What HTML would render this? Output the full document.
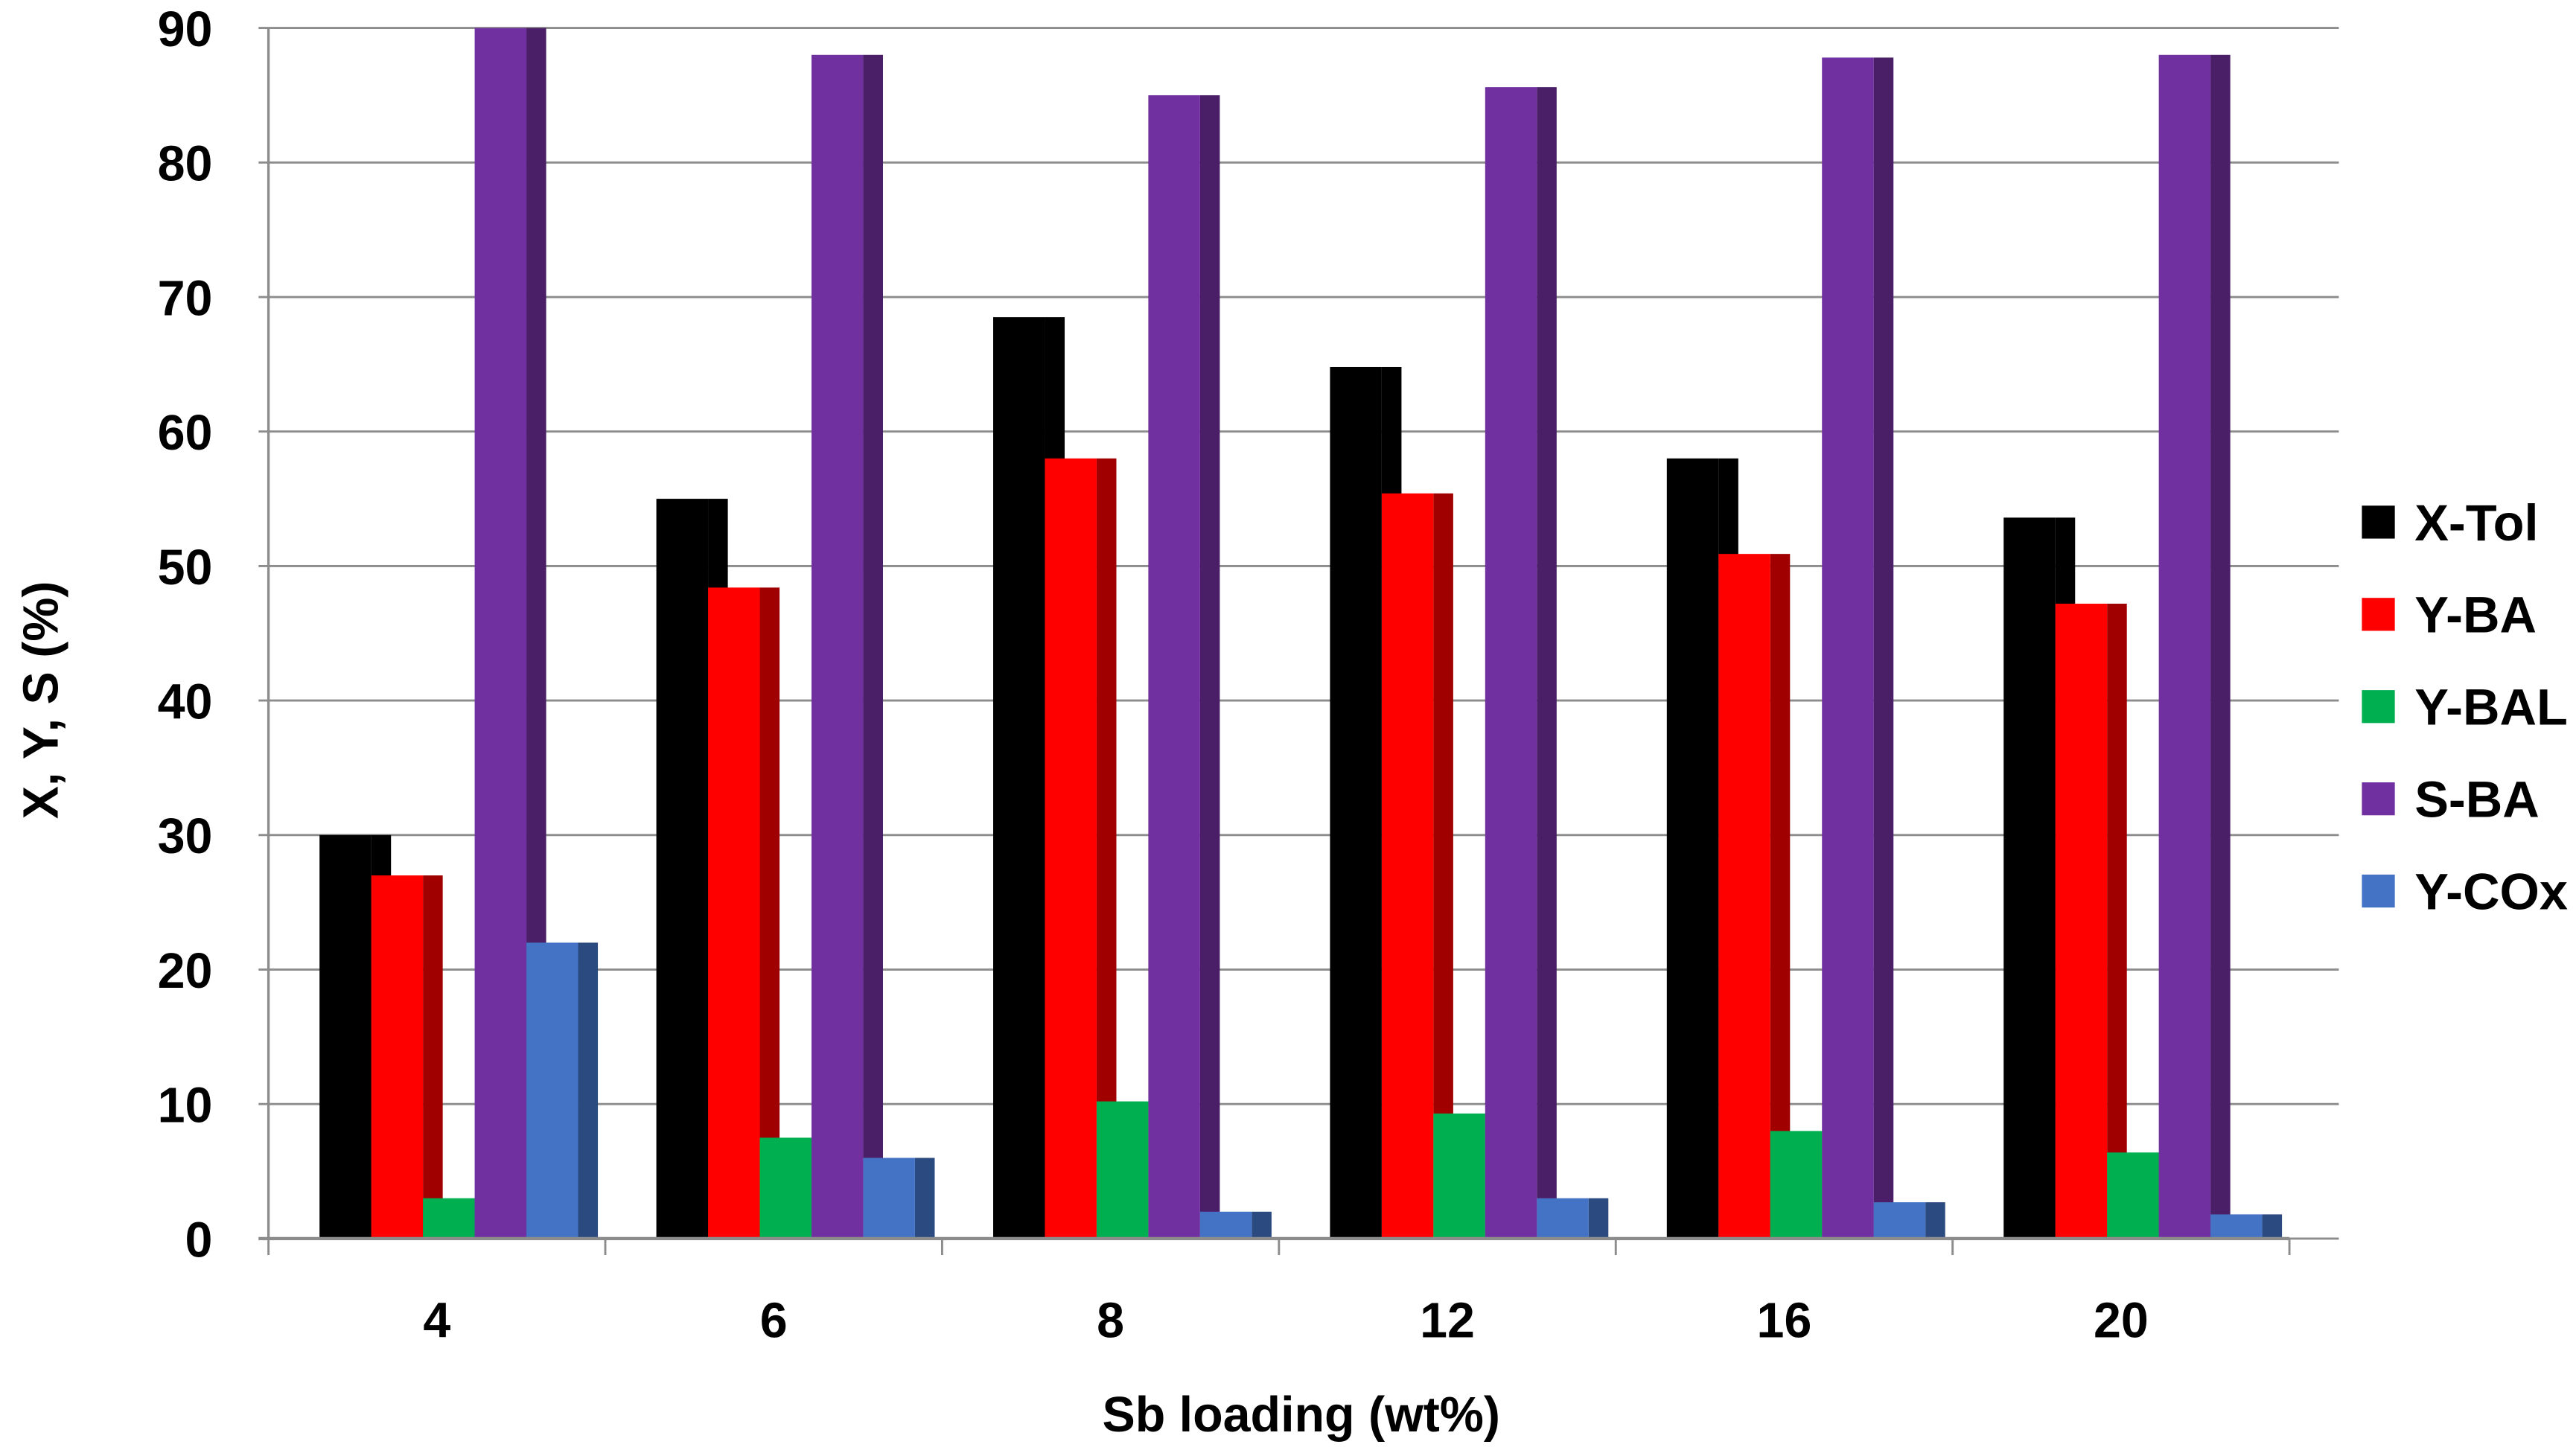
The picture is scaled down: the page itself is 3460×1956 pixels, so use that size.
<!DOCTYPE html>
<html><head><meta charset="utf-8"><style>
html,body{margin:0;padding:0;background:#fff;}
svg{display:block;}
text{font-family:"Liberation Sans",sans-serif;font-weight:bold;fill:#000;}
</style></head><body>
<svg id="chart" width="3460" height="1956" viewBox="0 0 1564 884" preserveAspectRatio="none" xmlns="http://www.w3.org/2000/svg">
<g id="grid"></g>
<g id="bars"></g>
<g id="axes"></g>
<text transform="translate(35,425) rotate(-90)" text-anchor="middle" font-size="30">X, Y, S (%)</text>
<text x="790" y="869" text-anchor="middle" font-size="30">Sb loading (wt%)</text>
<g id="legend"></g>
</svg>
<script>
const categories = ["4","6","8","12","16","20"];
const seriesNames = ["X-Tol","Y-BA","Y-BAL","S-BA","Y-COx"];
const xTol = [30, 55, 68.5, 64.8, 58, 53.6];
const yBA = [27, 48.4, 58, 55.4, 50.9, 47.2];
const yBAL = [3, 7.5, 10.2, 9.3, 8, 6.4];
const sBA = [90, 88, 85, 85.6, 87.8, 88];
const yCOx = [22, 6, 2, 3, 2.7, 1.8];
const yTicks = [0,10,20,30,40,50,60,70,80,90];

const series = [xTol, yBA, yBAL, sBA, yCOx];
const fronts = ["#000000","#ff0000","#00b050","#7030a0","#4472c4"];
const sides = ["#000000","#a00000","#007a38","#4b1f68","#2a4a80"];
const NS = "http://www.w3.org/2000/svg";
const X0 = 163, X1 = 1390, GRIDR = 1420, Y0 = 752, YTOP = 17;
const catW = (X1 - X0) / categories.length;
const barW = 31.4, depth = 12;
function yScale(v){ return Y0 - (Math.min(v,90)/90)*(Y0-YTOP); }
function xCat(i){ return X0 + i*catW; }
function mk(tag, attrs, parent){ const e=document.createElementNS(NS,tag); for(const k in attrs) e.setAttribute(k,attrs[k]); parent.appendChild(e); return e; }

const grid = document.getElementById('grid');
yTicks.forEach(t=>{
  const y=yScale(t);
  const l=mk('line',{x1:X0-6,x2:GRIDR,y1:y,y2:y,stroke:'#8c8c8c','stroke-width':1.3},grid);
  
  
  const tx=mk('text',{x:129,y:y+11,'text-anchor':'end','font-size':30},grid);
  tx.textContent=t;
  
  
});

const bars = document.getElementById('bars');
categories.forEach((c,i)=>{
  const gx = xCat(i) + 31;
  series.forEach((s,j)=>{
    const x = gx + j*barW, y = yScale(s[i]), h = Y0 - y;
    const side = mk('rect',{x:x+barW,y:y,width:depth,height:h,fill:sides[j]},bars);
    
    
  });
  series.forEach((s,j)=>{
    const x = gx + j*barW, y = yScale(s[i]), h = Y0 - y;
    const r = mk('rect',{x:x,y:y,width:barW,height:h,fill:fronts[j]},bars);
    
    
  });
});

const axes = document.getElementById('axes');
let a = mk('line',{x1:X0,x2:X0,y1:YTOP,y2:Y0,stroke:'#8c8c8c','stroke-width':1.5},axes);


a = mk('line',{x1:X0-6,x2:X1,y1:Y0,y2:Y0,stroke:'#8c8c8c','stroke-width':2},axes);


for(let i=0;i<=categories.length;i++){
  const t=mk('line',{x1:xCat(i),x2:xCat(i),y1:Y0,y2:Y0+10,stroke:'#8c8c8c','stroke-width':1.3},axes);
  
  
}
categories.forEach((c,i)=>{
  const t=mk('text',{x:xCat(i)+catW/2,y:812,'text-anchor':'middle','font-size':30},axes);
  t.textContent=c;
  
  
});

const legend = document.getElementById('legend');
seriesNames.forEach((n,j)=>{
  const cy = 317 + j*56;
  const sw = mk('rect',{x:1434,y:cy-10,width:20,height:20,fill:fronts[j]},legend);
  
  
  const t = mk('text',{x:1466,y:cy+11,'font-size':31},legend);
  t.textContent=n;
  
  
});
</script>
</body></html>
